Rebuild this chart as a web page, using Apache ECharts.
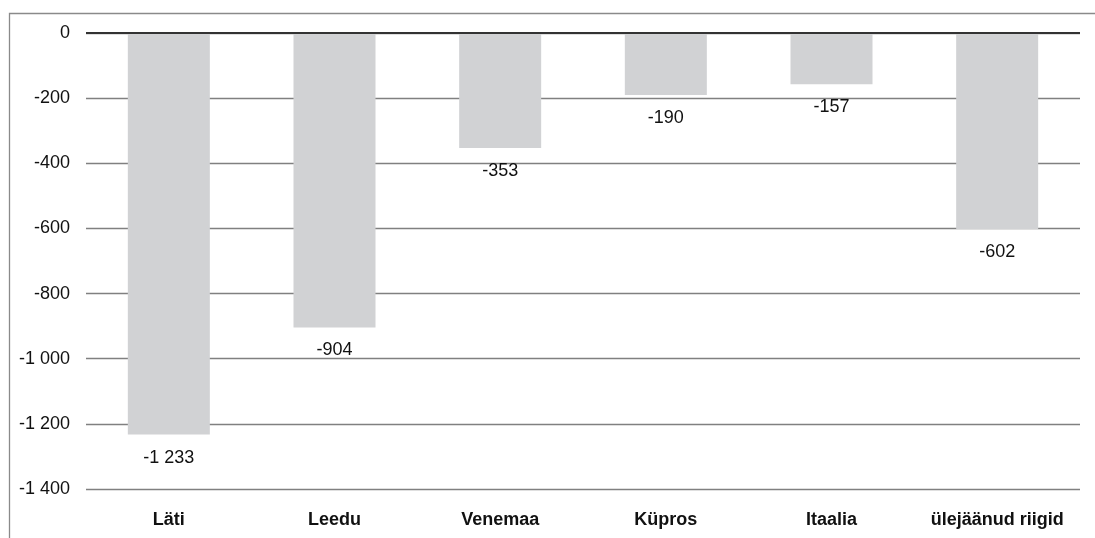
<!DOCTYPE html>
<html>
<head>
<meta charset="utf-8">
<script src="https://cdn.jsdelivr.net/npm/echarts@6/dist/echarts.min.js"></script>
<style>
html,body{margin:0;padding:0;background:#fff;}
#chart{width:1095px;height:538px;}
</style>
</head>
<body>
<div id="chart"></div>
<script>
const categories = ['Läti', 'Leedu', 'Venemaa', 'Küpros', 'Itaalia', 'ülejäänud riigid'];
const values = [-1233, -904, -353, -190, -157, -602];
const yTicks = { min: -1400, max: 0, interval: 200 };

function fmt(v) {
  const s = Math.abs(v).toString().replace(/\B(?=(\d{3})+(?!\d))/g, ' ');
  return (v < 0 ? '-' : '') + s;
}

const chart = echarts.init(document.getElementById('chart'));
chart.setOption({
  animation: false,
  backgroundColor: '#fff',
  textStyle: { fontFamily: 'Liberation Sans, Arial, sans-serif' },
  graphic: [{
    type: 'rect',
    shape: { x: 9.5, y: 13.5, width: 1300, height: 700 },
    style: { fill: 'none', stroke: '#8a8a8a', lineWidth: 1.3 },
    silent: true, z: -1
  }],
  grid: { left: 86, right: 15, top: 33, bottom: 49, containLabel: false },
  xAxis: {
    type: 'category',
    data: categories,
    position: 'bottom',
    axisLine: { show: false },
    axisTick: { show: false },
    axisLabel: { color: '#111', fontSize: 18, fontWeight: 'bold', margin: 22, interval: 0 }
  },
  yAxis: {
    type: 'value',
    min: yTicks.min, max: yTicks.max, interval: yTicks.interval,
    axisLine: { show: false },
    axisTick: { show: false },
    axisLabel: { color: '#111', fontSize: 18, margin: 16, formatter: fmt },
    splitLine: { lineStyle: { color: '#808080', width: 1.3 } }
  },
  series: [{
    type: 'bar',
    data: values,
    barWidth: '49.5%',
    itemStyle: { color: '#d1d2d4' },
    label: {
      show: true, position: 'bottom', distance: 14,
      color: '#111', fontSize: 18,
      formatter: p => fmt(p.value)
    },
    markLine: {
      silent: true, symbol: 'none',
      label: { show: false },
      lineStyle: { color: '#333', width: 2, type: 'solid' },
      data: [{ yAxis: 0 }],
      z: 5
    }
  }]
});
</script>
</body>
</html>
